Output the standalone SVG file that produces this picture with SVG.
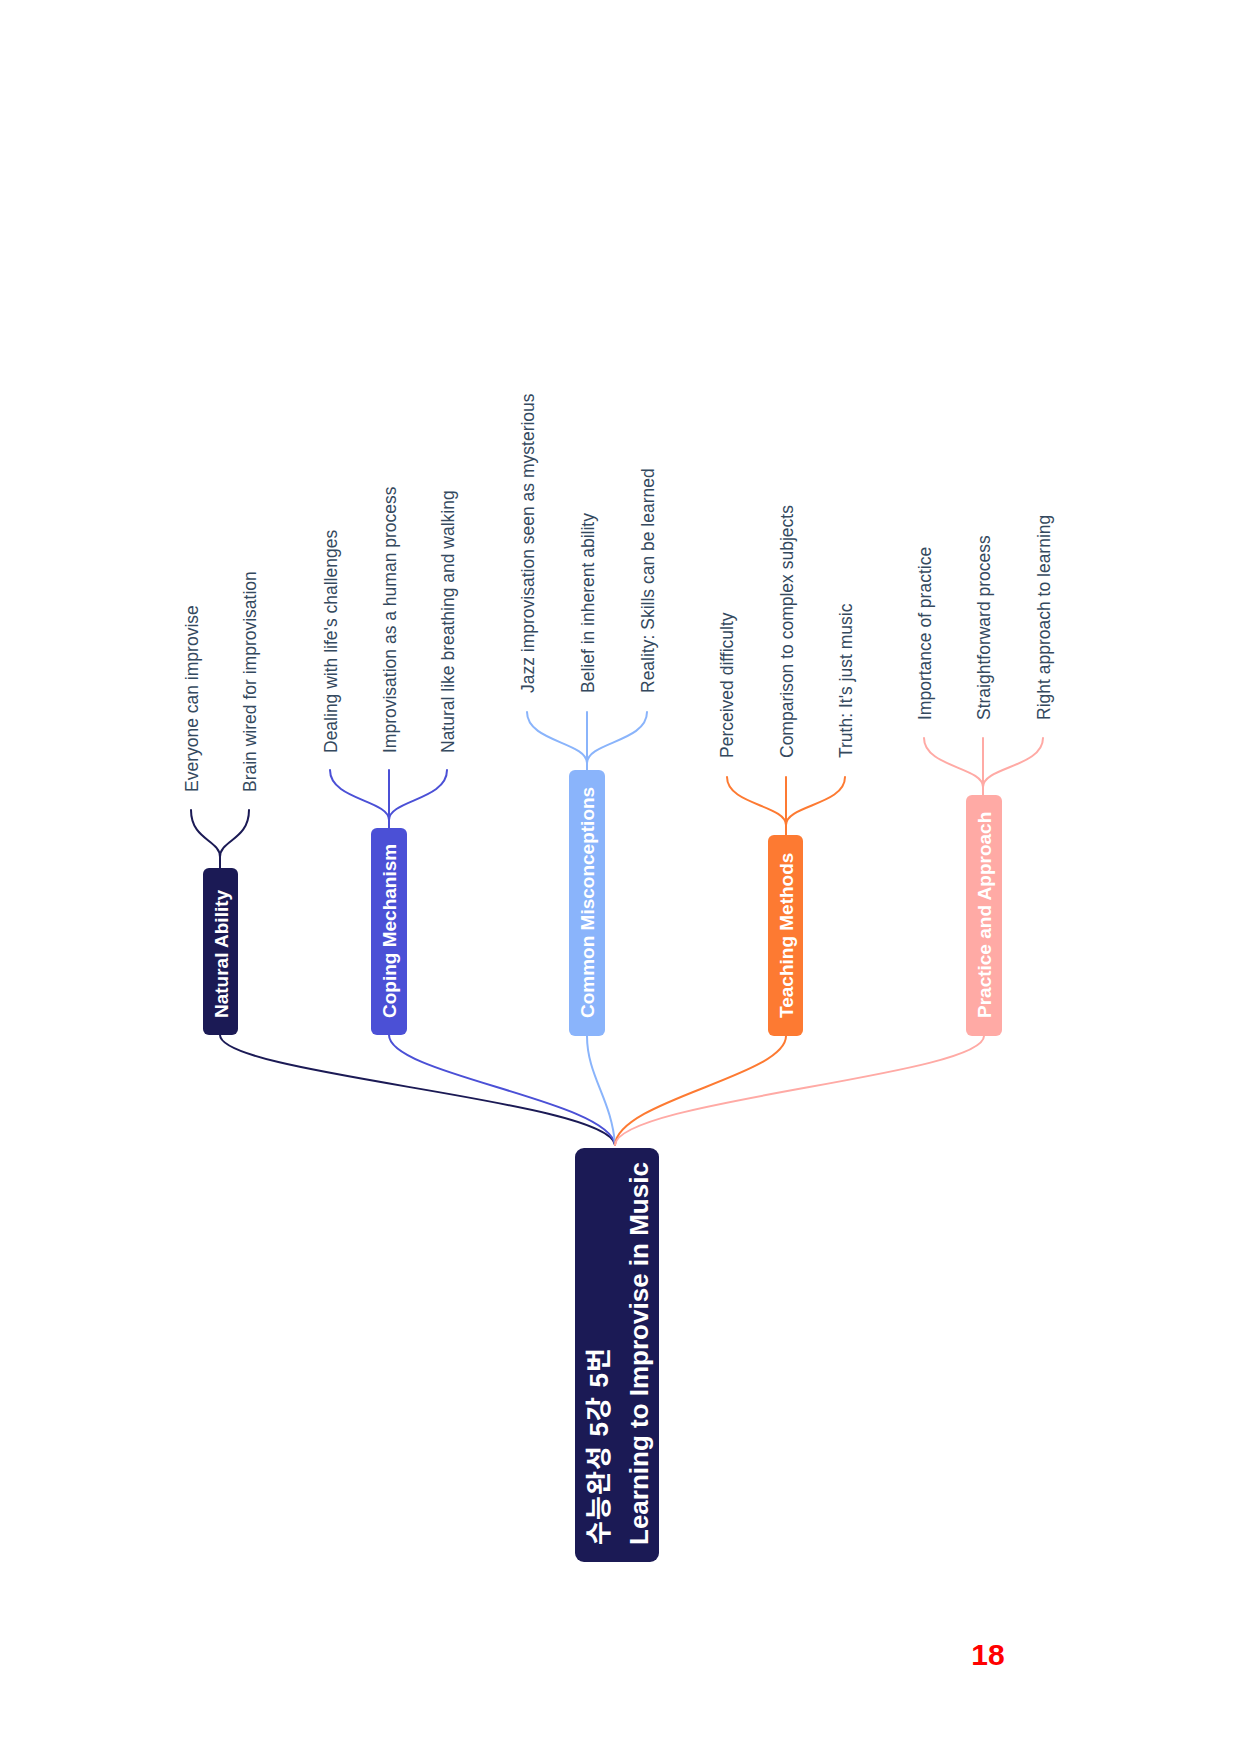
<svg xmlns="http://www.w3.org/2000/svg" width="1240" height="1754" viewBox="0 0 1240 1754">
<style>
.bg{fill:#ffffff}
.lnk{fill:none;stroke-width:2;stroke-linecap:round}
.c1{stroke:#1b1a55}.c2{stroke:#4b50d6}.c3{stroke:#8ab4fb}.c4{stroke:#fd7a32}.c5{stroke:#ffaaa5}
.f1{fill:#1b1a55}.f2{fill:#4b50d6}.f3{fill:#8ab4fb}.f4{fill:#fd7a32}.f5{fill:#ffaaa5}
.bt{font-family:"Liberation Sans",Arial,sans-serif;font-weight:bold;font-size:19px;fill:#ffffff}
.ct{font-family:"Liberation Sans",Arial,sans-serif;font-size:17.5px;fill:#34495e}
.rt{font-family:"Liberation Sans","Noto Sans CJK KR",sans-serif;font-weight:bold;font-size:26px;fill:#ffffff}
.pg{font-family:"Liberation Sans",Arial,sans-serif;font-weight:bold;font-size:30px;fill:#ff0000}
</style>
<rect class="bg" x="0" y="0" width="1240" height="1754"/>

<g id="connectors">
  <path class="lnk c1" d="M220 1035 C220 1075 610 1100 615 1145"/>
  <path class="lnk c2" d="M389 1035 C389 1075 610 1100 615 1145"/>
  <path class="lnk c3" d="M587 1036 C587 1076 612 1100 615 1145"/>
  <path class="lnk c4" d="M786 1036 C786 1076 618 1100 615 1145"/>
  <path class="lnk c5" d="M984 1036 C984 1076 618 1100 615 1145"/>

  <path class="lnk c1" d="M220 868 L220 857 C220 840 191 840 191 810"/>
  <path class="lnk c1" d="M220 868 L220 857 C220 840 249 840 249 810"/>

  <path class="lnk c2" d="M389 828 L389 820 C389 800 330 800 330 770"/>
  <path class="lnk c2" d="M389 828 L389 770"/>
  <path class="lnk c2" d="M389 828 L389 820 C389 800 447 800 447 770"/>

  <path class="lnk c3" d="M587 770 L587 763 C587 742 527 742 527 712"/>
  <path class="lnk c3" d="M587 770 L587 712"/>
  <path class="lnk c3" d="M587 770 L587 763 C587 742 647 742 647 712"/>

  <path class="lnk c4" d="M786 835 L786 825 C786 805 727 805 727 777"/>
  <path class="lnk c4" d="M786 835 L786 777"/>
  <path class="lnk c4" d="M786 835 L786 825 C786 805 845 805 845 777"/>

  <path class="lnk c5" d="M983 795 L983 787 C983 767 924 767 924 738"/>
  <path class="lnk c5" d="M983 795 L983 738"/>
  <path class="lnk c5" d="M983 795 L983 787 C983 767 1043 767 1043 738"/>
</g>

<g id="root">
  <rect class="f1" x="575" y="1148" width="84" height="414" rx="9"/>
  <text class="rt" transform="translate(608 1545) rotate(-90)" textLength="197" lengthAdjust="spacing">수능완성 5강 5번</text>
  <text class="rt" transform="translate(648 1545) rotate(-90)">Learning to Improvise in Music</text>
</g>

<g id="natural-ability">
  <rect class="f1" x="203" y="868" width="35" height="167" rx="6"/>
  <text class="bt" transform="translate(227.5 1018) rotate(-90)">Natural Ability</text>
</g>
<g id="coping-mechanism">
  <rect class="f2" x="371" y="828" width="36" height="207" rx="6"/>
  <text class="bt" transform="translate(396 1018) rotate(-90)">Coping Mechanism</text>
</g>
<g id="common-misconceptions">
  <rect class="f3" x="569" y="770" width="36" height="266" rx="6"/>
  <text class="bt" transform="translate(594 1018) rotate(-90)">Common Misconceptions</text>
</g>
<g id="teaching-methods">
  <rect class="f4" x="768" y="835" width="35" height="201" rx="6"/>
  <text class="bt" transform="translate(793 1018) rotate(-90)">Teaching Methods</text>
</g>
<g id="practice-approach">
  <rect class="f5" x="966" y="795" width="36" height="241" rx="6"/>
  <text class="bt" transform="translate(991 1018) rotate(-90)">Practice and Approach</text>
</g>

<g id="na-1"><text class="ct" transform="translate(198 792) rotate(-90)">Everyone can improvise</text></g>
<g id="na-2"><text class="ct" transform="translate(256 792) rotate(-90)">Brain wired for improvisation</text></g>

<g id="cm-1"><text class="ct" transform="translate(337 753) rotate(-90)">Dealing with life's challenges</text></g>
<g id="cm-2"><text class="ct" transform="translate(396 753) rotate(-90)">Improvisation as a human process</text></g>
<g id="cm-3"><text class="ct" transform="translate(454 753) rotate(-90)">Natural like breathing and walking</text></g>

<g id="mc-1"><text class="ct" transform="translate(534 693) rotate(-90)">Jazz improvisation seen as mysterious</text></g>
<g id="mc-2"><text class="ct" transform="translate(594 693) rotate(-90)">Belief in inherent ability</text></g>
<g id="mc-3"><text class="ct" transform="translate(654 693) rotate(-90)">Reality: Skills can be learned</text></g>

<g id="tm-1"><text class="ct" transform="translate(733 758) rotate(-90)">Perceived difficulty</text></g>
<g id="tm-2"><text class="ct" transform="translate(793 758) rotate(-90)">Comparison to complex subjects</text></g>
<g id="tm-3"><text class="ct" transform="translate(852 758) rotate(-90)">Truth: It's just music</text></g>

<g id="pa-1"><text class="ct" transform="translate(931 720) rotate(-90)">Importance of practice</text></g>
<g id="pa-2"><text class="ct" transform="translate(990 720) rotate(-90)">Straightforward process</text></g>
<g id="pa-3"><text class="ct" transform="translate(1050 720) rotate(-90)">Right approach to learning</text></g>

<text class="pg" x="988" y="1665" text-anchor="middle">18</text>
</svg>
